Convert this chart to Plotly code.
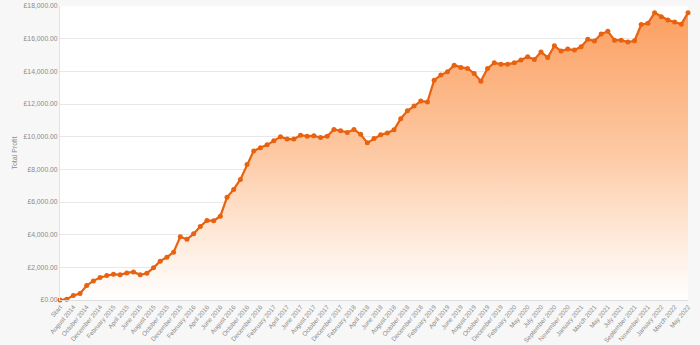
import plotly.graph_objects as go

categories = [
    "Start", "July 2014", "August 2014", "September 2014", "October 2014", "November 2014", "December 2014",
    "January 2015", "February 2015", "March 2015", "April 2015", "May 2015", "June 2015", "July 2015",
    "August 2015", "September 2015", "October 2015", "November 2015", "December 2015",
    "January 2016", "February 2016", "March 2016", "April 2016", "May 2016", "June 2016", "July 2016",
    "August 2016", "September 2016", "October 2016", "November 2016", "December 2016",
    "January 2017", "February 2017", "March 2017", "April 2017", "May 2017", "June 2017", "July 2017",
    "August 2017", "September 2017", "October 2017", "November 2017", "December 2017",
    "January 2018", "February 2018", "March 2018", "April 2018", "May 2018", "June 2018", "July 2018",
    "August 2018", "September 2018", "October 2018", "November 2018", "December 2018",
    "January 2019", "February 2019", "March 2019", "April 2019", "May 2019", "June 2019", "July 2019",
    "August 2019", "September 2019", "October 2019", "November 2019", "December 2019",
    "January 2020", "February 2020", "March 2020", "May 2020", "June 2020", "July 2020",
    "August 2020", "September 2020", "October 2020", "November 2020", "December 2020",
    "January 2021", "February 2021", "March 2021", "April 2021", "May 2021", "June 2021", "July 2021",
    "August 2021", "September 2021", "October 2021", "November 2021", "December 2021",
    "January 2022", "February 2022", "March 2022", "April 2022", "May 2022",
]

total_profit = [
    0, 50, 275, 400, 890, 1170, 1380, 1500, 1580, 1540,
    1660, 1720, 1540, 1640, 1970, 2380, 2620, 2930, 3870, 3720,
    4050, 4500, 4870, 4850, 5130, 6290, 6770, 7380, 8300, 9130,
    9320, 9500, 9745, 9990, 9850, 9850, 10090, 10030, 10050, 9950,
    10030, 10440, 10360, 10260, 10440, 10150, 9620, 9890, 10110, 10230,
    10420, 11100, 11580, 11870, 12180, 12130, 13460, 13770, 13970, 14380,
    14240, 14180, 13870, 13400, 14180, 14520, 14440, 14440, 14520, 14690,
    14890, 14730, 15180, 14850, 15560, 15240, 15360, 15300, 15500, 15960,
    15850, 16280, 16450, 15910, 15910, 15790, 15870, 16870, 16940, 17590,
    17340, 17140, 17020, 16890, 17590,
]

y_ticks = [0, 2000, 4000, 6000, 8000, 10000, 12000, 14000, 16000, 18000]
y_tick_labels = ["£{:,.2f}".format(v) for v in y_ticks]
x_tick_labels = categories[::2]

fig = go.Figure()
fig.add_trace(go.Scatter(
    x=categories,
    y=total_profit,
    mode="lines+markers",
    line=dict(color="#E8620F", width=2.2),
    marker=dict(color="#E8620F", size=5),
    fill="tozeroy",
    fillgradient=dict(
        type="vertical",
        start=0,
        stop=18000,
        colorscale=[[0, "rgba(255,255,255,0.9)"], [0.5, "#FDC9A3"], [1, "#FC9D5E"]],
    ),
    cliponaxis=False,
    hoverinfo="skip",
))

fig.update_layout(
    width=700,
    height=345,
    margin=dict(l=60, r=12, t=6, b=45),
    paper_bgcolor="#F7F7F7",
    plot_bgcolor="#FFFFFF",
    showlegend=False,
    font=dict(family="Liberation Sans, Arial, sans-serif", size=7, color="#8A8A8A"),
)
fig.update_xaxes(
    type="category",
    categoryorder="array",
    categoryarray=categories,
    tickmode="array",
    tickvals=x_tick_labels,
    ticktext=x_tick_labels,
    tickangle=-50,
    tickfont=dict(size=6.3, color="#8A8A8A"),
    range=[0, len(categories) - 1],
    showgrid=False,
    showline=True,
    linecolor="#DDDDDD",
    linewidth=1,
    ticks="",
    zeroline=False,
    automargin=False,
)
fig.update_yaxes(
    range=[0, 18000],
    tickmode="array",
    tickvals=y_ticks,
    ticktext=y_tick_labels,
    tickfont=dict(size=6.8, color="#8A8A8A"),
    showgrid=True,
    gridcolor="#E8E8E8",
    gridwidth=1,
    showline=True,
    linecolor="#E3E3E3",
    zeroline=False,
    automargin=False,
    title=dict(text="Total Profit", font=dict(size=7, color="#8A8A8A"), standoff=5),
)

fig.write_html("out.html")
